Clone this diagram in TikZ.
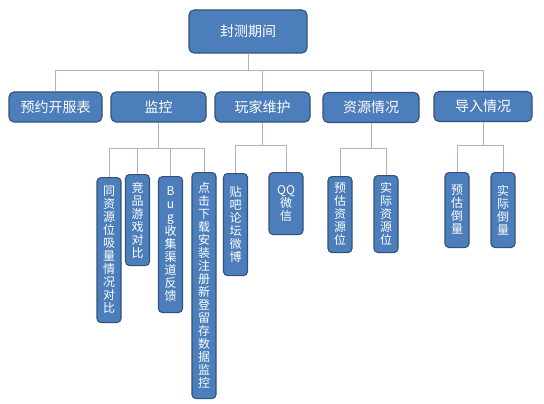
\documentclass[tikz,border=0pt]{standalone}
\usepackage{fontspec}
\setmainfont{Noto Sans CJK SC}
\usepackage{tikz}
\usepackage{xcolor}
\definecolor{OrgBlue}{RGB}{76,126,187}
\definecolor{OrgBorder}{RGB}{50,82,124}
\definecolor{OrgLine}{RGB}{172,180,192}
\usetikzlibrary{positioning}

\begin{document}
\begin{tikzpicture}[x=1pt, y=-1pt,
  topbox/.style={rectangle, rounded corners=5pt, draw=OrgBorder, line width=1.1pt, fill=OrgBlue, text=white, minimum width=95pt, minimum height=30pt, font=\fontsize{14}{16}\selectfont},
  subbox/.style={rectangle, rounded corners=4pt, draw=OrgBorder, line width=1.1pt, fill=OrgBlue, text=white, minimum width=24pt, inner xsep=2pt, anchor=north, align=center, font=\fontsize{12}{13}\selectfont},
  link/.style={draw=OrgLine, line width=1pt}
]
\useasboundingbox (0,0) rectangle (544,404);

\node[topbox, minimum width=118pt, minimum height=43pt] (root) at (248,31.5) {封测期间};

\node[topbox, minimum width=93pt] (yuyue) at (55.5,107) {预约开服表};
\node[topbox] (jiankong) at (158.5,107) {监控};
\node[topbox] (wanjia) at (262.5,107) {玩家维护};
\node[topbox, minimum width=96pt] (ziyuan) at (371,107.5) {资源情况};
\node[topbox, minimum width=98pt] (daoru) at (483,106.5) {导入情况};

\coordinate (bus) at (248,71);
\draw[link] (root) -- (bus);
\draw[link] (bus) -| (yuyue.north);
\draw[link] (bus) -| (jiankong.north);
\draw[link] (bus) -| (wanjia.north);
\draw[link] (bus) -| (ziyuan.north);
\draw[link] (bus) -| (daoru.north);

% 监控
\node[subbox, minimum height=145pt] (tongzy) at (109,177) {同\\资\\源\\位\\吸\\量\\情\\况\\对\\比};
\node[subbox, minimum height=91pt] (jingpin) at (137.5,174) {竞\\品\\游\\戏\\对\\比};
\node[subbox, minimum height=136pt] (bug) at (170.5,176) {B\\u\\g\\收\\集\\渠\\道\\反\\馈};
\node[subbox, minimum height=226pt] (dianji) at (204,172) {点\\击\\下\\载\\安\\装\\注\\册\\新\\登\\留\\存\\数\\据\\监\\控};
\draw[link] (jiankong.south) -- ++(0,26) -| (tongzy.north);
\draw[link] (jiankong.south) -- ++(0,26) -| (jingpin.north);
\draw[link] (jiankong.south) -- ++(0,26) -| (bug.north);
\draw[link] (jiankong.south) -- ++(0,26) -| (dianji.north);

% 玩家维护
\node[subbox, minimum height=102pt] (tieba) at (235.5,173) {贴\\吧\\论\\坛\\微\\博};
\node[subbox, minimum width=34pt, minimum height=62pt] (qqwx) at (286,172) {QQ\\微\\信};
\draw[link] (wanjia.south) -- ++(0,23) -| (tieba.north);
\draw[link] (wanjia.south) -- ++(0,23) -| (qqwx.north);

% 资源情况
\node[subbox, minimum height=76pt] (yuguzy) at (340,176) {预\\估\\资\\源\\位};
\node[subbox, minimum height=77pt] (shijizy) at (386,175) {实\\际\\资\\源\\位};
\draw[link] (ziyuan.south) -- ++(0,25) -| (yuguzy.north);
\draw[link] (ziyuan.south) -- ++(0,25) -| (shijizy.north);

% 导入情况
\node[subbox, minimum height=75pt] (yugudl) at (457,172) {预\\估\\倒\\量};
\node[subbox, minimum height=75pt] (shijidl) at (503,172) {实\\际\\倒\\量};
\draw[link] (daoru.south) -- ++(0,23) -| (yugudl.north);
\draw[link] (daoru.south) -- ++(0,23) -| (shijidl.north);
\end{tikzpicture}
\end{document}
